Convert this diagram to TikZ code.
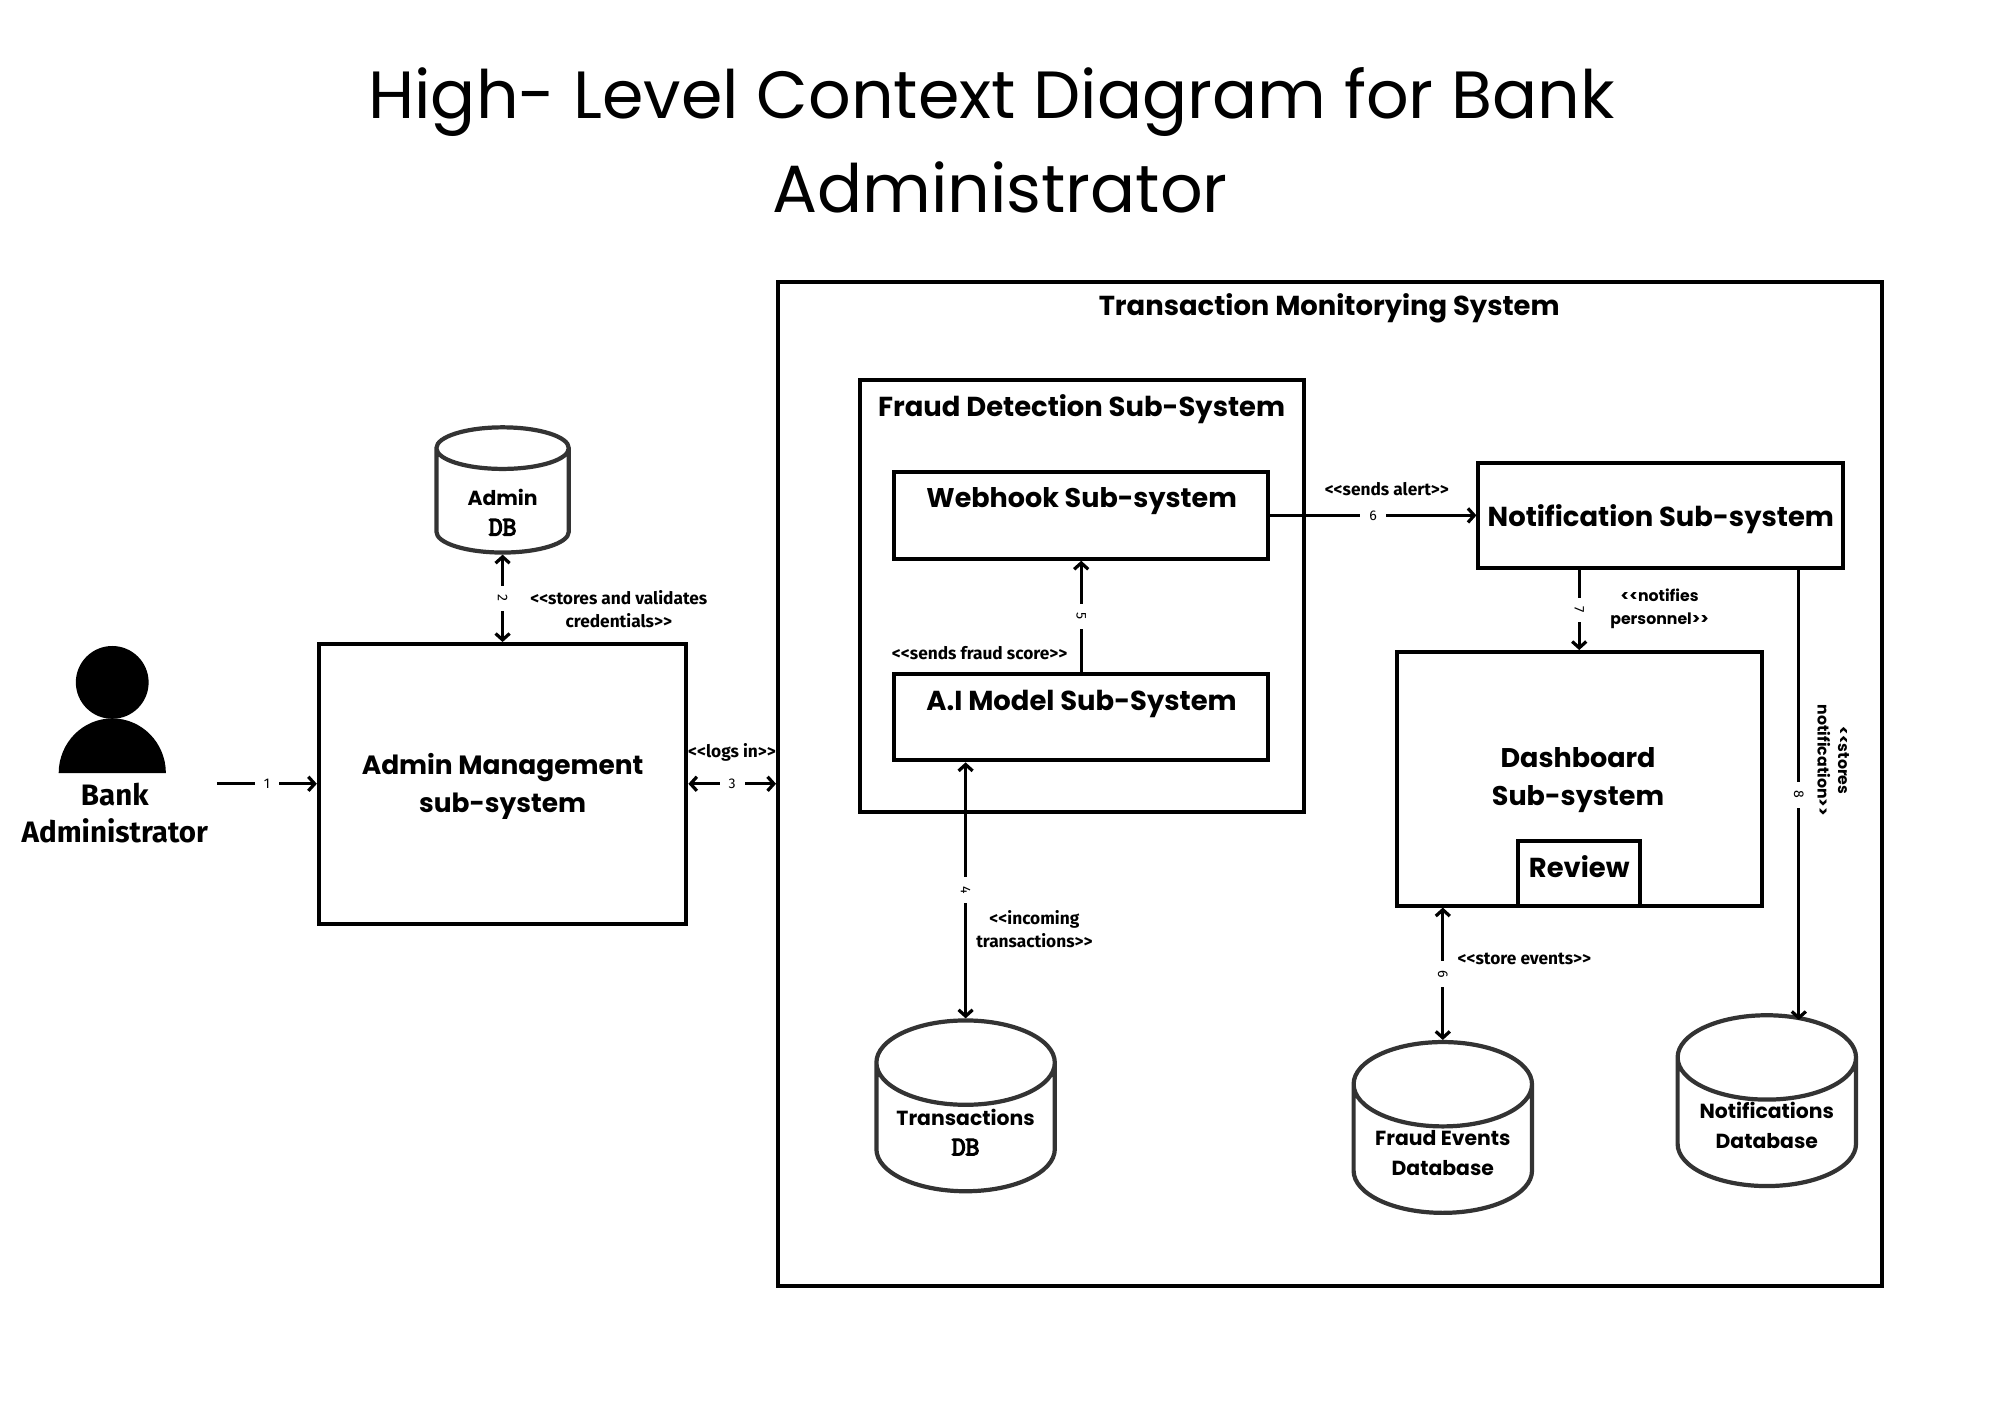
\documentclass[tikz,border=0pt]{standalone}
\usepackage{fontspec}
\usetikzlibrary{arrows.meta,shapes.geometric}
\setmainfont{Poppins}
\newfontfamily\labelfont{Fira Sans}
\newfontfamily\widefont{Poppins}
\newfontfamily\dbfont[FakeBold=5]{Latin Modern Mono}

\tikzset{
	>={Straight Barb[length=4.5pt,width=10pt]},
	sysbox/.style={draw, line width=2.8pt, align=center, inner sep=0pt},
	dbase/.style={draw=black!80, line width=3pt, shape=cylinder, shape border rotate=90, aspect=0.6,
		minimum width=4.46cm, minimum height=3.81cm, inner sep=0pt},
	dbtext/.style={align=center, font=\fontsize{14.5}{21.5}\selectfont\bfseries, inner sep=0pt},
	link/.style={line width=2.3pt},
	num/.style={fill=white, font=\labelfont\fontsize{10}{10}\selectfont, inner sep=6.5pt},
	note/.style={font=\labelfont\fontsize{12.3}{16.3}\selectfont\bfseries, align=center, inner sep=0pt},
	widenote/.style={font=\widefont\fontsize{11.2}{14.5}\selectfont\bfseries, align=center, inner sep=0pt},
	head/.style={font=\fontsize{19.5}{27}\selectfont\bfseries, align=center, inner sep=0pt},
}
\newcommand{\dbspace}[2]{\phantom{\rule{#1}{#2}}}

\begin{document}
\begin{tikzpicture}
	\useasboundingbox (0, 0) rectangle (50, 35.35);

	% title
	\node[font=\fontsize{47.5}{67}\selectfont, align=center] (title) at (25, 31.84) {High- Level Context Diagram for Bank\hspace*{0.42cm}\\Administrator};

	% actor
	\fill (2.806, 18.29) circle (0.91);
	\fill (1.467, 16.02) arc (180:0:1.34 and 1.37) -- cycle;
	\node[head, font=\labelfont\fontsize{21}{26}\selectfont\bfseries] (actor) at (2.87, 15.02) {Bank\\Administrator};
	\coordinate (actorend) at (5.42, 15.755);

	% outer system
	\node[draw, line width=2.8pt, minimum width=27.59cm, minimum height=25.10cm] (monitor) at (33.245, 15.75) {};
	\node[head] (monitortitle) at (33.23, 27.64) {Transaction Monitorying System};

	% admin side
	\node[sysbox, minimum width=9.19cm, minimum height=6.99cm] (admin) at (12.565, 15.755) {};
	\node[head, font=\fontsize{18.8}{27}\selectfont\bfseries] (admintitle) at (12.565, 15.69) {Admin Management\\sub-system};
	\node[dbase, minimum width=3.31cm, minimum height=3.13cm, aspect=0.58] (admindb) at (12.565, 22.815) {\dbspace{51pt}{40pt}};
	\node[dbtext] (admintext) at (12.565, 22.546) {Admin\\\fontsize{19}{21.5}\selectfont\dbfont DB};

	% fraud detection
	\node[sysbox, minimum width=11.10cm, minimum height=10.81cm] (fraud) at (27.04, 20.445) {};
	\node[head] (fraudtitle) at (27.04, 25.12) {Fraud Detection Sub-System};
	\node[sysbox, minimum width=9.34cm, minimum height=2.17cm] (webhook) at (27.03, 22.465) {};
	\node[head, font=\fontsize{19.2}{27}\selectfont\bfseries] (webhooktitle) at (27.04, 22.82) {Webhook Sub-system};
	\node[sysbox, minimum width=9.34cm, minimum height=2.17cm] (aimodel) at (27.03, 17.425) {};
	\node[head] (aititle) at (27.04, 17.75) {A.I Model Sub-System};

	% right column
	\node[sysbox, minimum width=9.12cm, minimum height=2.61cm] (notification) at (41.52, 22.465) {};
	\node[head] (notificationtitle) at (41.52, 22.38) {Notification Sub-system};
	\node[sysbox, minimum width=9.12cm, minimum height=6.34cm] (dashboard) at (39.48, 15.88) {};
	\node[head, font=\fontsize{19.2}{27}\selectfont\bfseries] (dashtitle) at (39.45, 15.84) {Dashboard\\Sub-system};
	\node[sysbox, minimum width=3.06cm, minimum height=1.62cm] (review) at (39.48, 13.52) {};
	\node[head] (reviewtitle) at (39.48, 13.68) {Review};

	% databases
	\node[dbase] (transdb) at (24.14, 7.15) {\dbspace{100pt}{30pt}};
	\node[dbtext] (transtext) at (24.14, 7.05) {Transactions\\\fontsize{19}{21.5}\selectfont\dbfont DB};
	\node[dbase] (eventdb) at (36.07, 6.61) {\dbspace{100pt}{30pt}};
	\node[dbtext] (eventtext) at (36.07, 6.52) {Fraud Events\\Database};
	\node[dbase] (notifdb) at (44.17, 7.28) {\dbspace{100pt}{30pt}};
	\node[dbtext] (notiftext) at (44.17, 7.21) {Notifications\\Database};
	\coordinate (storeend) at (44.97, 9.85);

	% connectors
	\draw[link, ->] (actorend) -- (admin.west) node[midway, num] {1};
	\draw[link, <->] (admin.north) -- (admindb.bottom) node[midway, num, rotate=-90] {2};
	\draw[link, <->] (admin.east) -- (monitor.west |- admin.east) node[midway, num] {3};
	\draw[link, <->] (transdb.top |- aimodel.south) -- (transdb.top) node[midway, num, rotate=-90] {4};
	\draw[link, ->] (aimodel.north) -- (webhook.south) node[midway, num, rotate=-90] {5};
	\draw[link, ->] (webhook.east) -- (notification.west) node[midway, num] {6};
	\draw[link, ->] (dashboard.north |- notification.south) -- (dashboard.north) node[midway, num, rotate=-90] {7};
	\draw[link, ->] (storeend |- notification.south) -- (storeend) node[midway, num, rotate=-90] {8};
	\draw[link, <->] (eventdb.top |- dashboard.south) -- (eventdb.top) node[midway, num, rotate=-90] {6};

	% labels
	\node[note] (notecreds) at (15.47, 20.12) {<<stores and validates\\credentials>>};
	\node[note] (notelogin) at (18.30, 16.55) {<<logs in>>};
	\node[note] (notescore) at (24.49, 19.03) {<<sends fraud score>>};
	\node[note] (noteincoming) at (25.86, 12.13) {<<incoming\\transactions>>};
	\node[note] (noteevents) at (38.11, 11.38) {<<store events>>};
	\node[note] (notealert) at (34.67, 23.12) {<<sends alert>>};
	\node[widenote, font=\widefont\fontsize{11.2}{16.3}\selectfont\bfseries] (notepersonnel) at (41.49, 20.13) {<<notifies\\personnel>>};
	\node[widenote, rotate=-90] (notestores) at (45.83, 16.34) {<<stores\\notification>>};
\end{tikzpicture}
\end{document}
